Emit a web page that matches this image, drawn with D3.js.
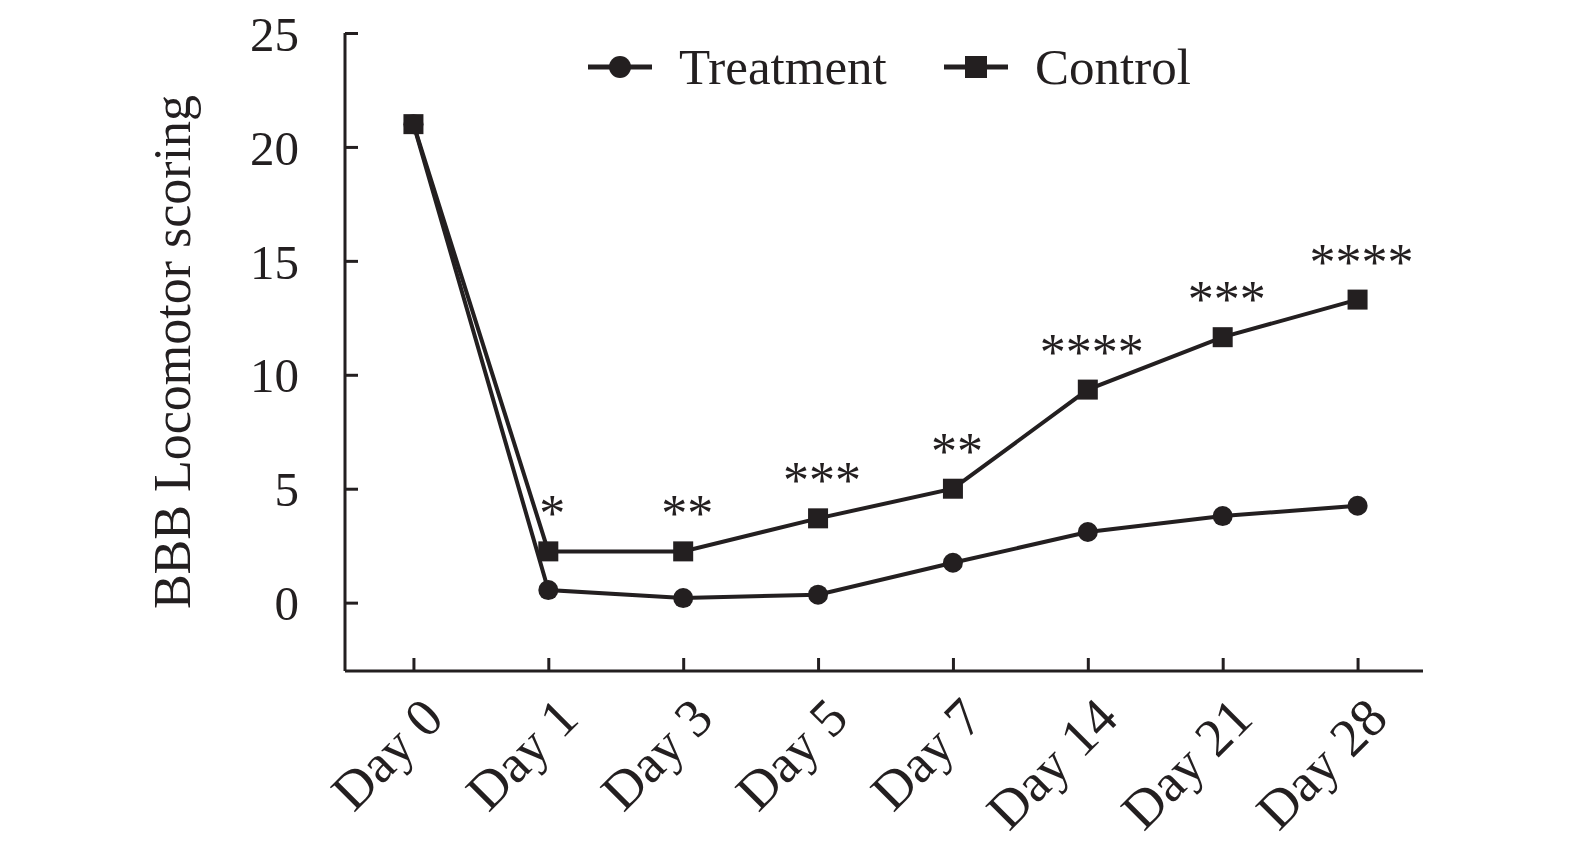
<!DOCTYPE html>
<html>
<head>
<meta charset="utf-8">
<script src="https://cdn.jsdelivr.net/npm/d3@7"></script>
<style>
  body { margin: 0; background: #fff; }
  svg text { font-family: 'Liberation Serif', 'Times New Roman', serif; fill: #231f20; }
</style>
</head>
<body>
<div id="chart"></div>
<script>
const width = 1575;
const height = 850;

const days = ['Day 0', 'Day 1', 'Day 3', 'Day 5', 'Day 7', 'Day 14', 'Day 21', 'Day 28'];
const treatment = [21, 0.55, 0.2, 0.35, 1.75, 3.1, 3.8, 4.25];
const control = [21, 2.25, 2.25, 3.7, 5.0, 9.35, 11.65, 13.3];
const stars = ['', '*', '**', '***', '**', '****', '***', '****'];
const yTicks = [0, 5, 10, 15, 20, 25];

const ink = '#231f20';

const svg = d3.select('#chart').append('svg')
  .attr('width', width)
  .attr('height', height);

const x = d3.scalePoint()
  .domain(days)
  .range([346, 1425])
  .padding(0.5);

const y = d3.scaleLinear()
  .domain([-3, 25])
  .range([671, 33]);

// y axis, ticks pointing inward
const yAxis = svg.append('g')
  .attr('transform', 'translate(345,0)')
  .call(d3.axisRight(y).tickValues(yTicks).tickSize(13).tickFormat(''));
yAxis.select('.domain').attr('d', `M0,${y(25)}V${y(-3)}`);
yAxis.selectAll('path, line').attr('stroke', ink).attr('stroke-width', 3);

yAxis.selectAll('.tick').append('text')
  .attr('x', -46)
  .attr('dy', '0.35em')
  .attr('text-anchor', 'end')
  .style('font-size', '49px')
  .text(d => d);

// x axis, ticks pointing up
const xAxis = svg.append('g')
  .attr('transform', 'translate(0,671)')
  .call(d3.axisTop(x).tickSize(13).tickFormat(''));
xAxis.select('.domain').attr('d', 'M345,0H1423');
xAxis.selectAll('path, line').attr('stroke', ink).attr('stroke-width', 3);

xAxis.selectAll('.tick').append('text')
  .attr('transform', 'translate(32,50) rotate(-45)')
  .attr('text-anchor', 'end')
  .style('font-size', '54px')
  .text(d => d);

// y axis title
svg.append('text')
  .attr('transform', 'translate(190,352) rotate(-90)')
  .attr('text-anchor', 'middle')
  .style('font-size', '52px')
  .text('BBB Locomotor scoring');

const line = d3.line()
  .x((d, i) => x(days[i]))
  .y(d => y(d));

svg.append('path')
  .datum(control)
  .attr('d', line)
  .attr('fill', 'none')
  .attr('stroke', ink)
  .attr('stroke-width', 4);

svg.append('path')
  .datum(treatment)
  .attr('d', line)
  .attr('fill', 'none')
  .attr('stroke', ink)
  .attr('stroke-width', 4);

svg.append('g').selectAll('rect')
  .data(control)
  .enter()
  .append('rect')
  .attr('x', (d, i) => x(days[i]) - 10)
  .attr('y', d => y(d) - 10)
  .attr('width', 20)
  .attr('height', 20)
  .attr('fill', ink);

svg.append('g').selectAll('circle')
  .data(treatment)
  .enter()
  .append('circle')
  .attr('cx', (d, i) => x(days[i]))
  .attr('cy', d => y(d))
  .attr('r', 10)
  .attr('fill', ink);

// significance marks above control
svg.append('g').selectAll('text')
  .data(stars)
  .enter()
  .append('text')
  .attr('x', (d, i) => x(days[i]) + 4)
  .attr('y', (d, i) => y(control[i]) - 20)
  .attr('text-anchor', 'middle')
  .style('font-size', '52px')
  .text(d => d);

// legend
const legendItems = [
  { name: 'Treatment', x: 588, shape: 'circle' },
  { name: 'Control', x: 944, shape: 'square' },
];
const legend = svg.append('g').selectAll('g')
  .data(legendItems)
  .enter()
  .append('g')
  .attr('transform', d => `translate(${d.x},67)`);

legend.append('line')
  .attr('x1', 0)
  .attr('x2', 64)
  .attr('stroke', ink)
  .attr('stroke-width', 5);

legend.filter(d => d.shape === 'circle').append('circle')
  .attr('cx', 32)
  .attr('r', 11)
  .attr('fill', ink);

legend.filter(d => d.shape === 'square').append('rect')
  .attr('x', 21)
  .attr('y', -11)
  .attr('width', 22)
  .attr('height', 22)
  .attr('fill', ink);

legend.append('text')
  .attr('x', 91)
  .attr('dy', '0.33em')
  .style('font-size', '51px')
  .text(d => d.name);
</script>
</body>
</html>
